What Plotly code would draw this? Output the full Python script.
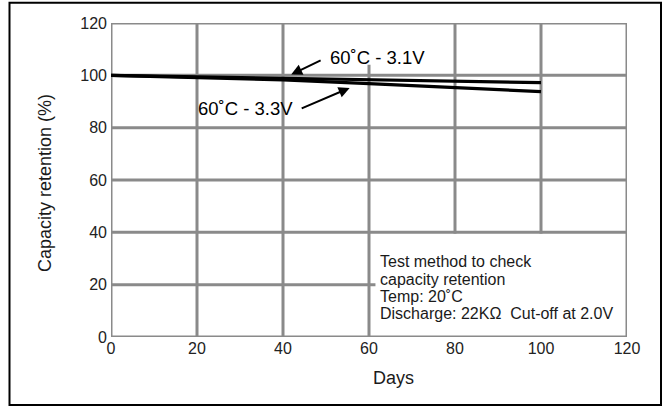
import plotly.graph_objects as go

# Storage test: capacity retention vs. days
days = [0, 20, 40, 60, 80, 100]
retention_31v = [100, 99.4, 98.9, 98.4, 97.9, 97.2]
retention_33v = [100, 99.3, 98.3, 96.8, 95.4, 93.8]

x_ticks = [0, 20, 40, 60, 80, 100, 120]
y_ticks = [0, 20, 40, 60, 80, 100, 120]

label_31v = "60˚C - 3.1V"
label_33v = "60˚C - 3.3V"
method_lines = [
    "Test method to check",
    "capacity retention",
    "Temp: 20˚C",
    "Discharge: 22KΩ\u00a0\u00a0Cut-off at 2.0V",
]

FONT = "Liberation Sans, Arial, Helvetica, sans-serif"
GRID = "#8a8a8a"
GRID_W = 3

fig = go.Figure()

fig.add_trace(go.Scatter(x=days, y=retention_31v, mode="lines",
                         line=dict(color="black", width=3.2), showlegend=False))
fig.add_trace(go.Scatter(x=days, y=retention_33v, mode="lines",
                         line=dict(color="black", width=3.2), showlegend=False))

# grid segments (x0, y0, x1, y1); some are cut short around the labels / note box
grid_segments = []
for y in [0, 40, 60, 80, 100, 120]:
    grid_segments.append((0, y, 120, y))
grid_segments.append((0, 20, 61.5, 20))
for x in [0, 20, 40, 120]:
    grid_segments.append((x, 0, x, 120))
grid_segments.append((60, 0, 60, 104))
grid_segments.append((80, 39.5, 80, 120))
grid_segments.append((100, 39.5, 100, 120))

for x0, y0, x1, y1 in grid_segments:
    fig.add_shape(type="line", xref="x", yref="y", x0=x0, y0=y0, x1=x1, y1=y1,
                  line=dict(color=GRID, width=GRID_W), layer="below")

# outer frame
fig.add_shape(type="rect", xref="paper", yref="paper",
              x0=-0.1967, x1=1.0659, y0=-0.2166, y1=1.0647,
              line=dict(color="black", width=2))

# series labels with arrows
fig.add_annotation(x=61.9, y=106.8, xref="x", yref="y", text=label_31v,
                   showarrow=False, font=dict(family=FONT, size=18.5, color="black"))
fig.add_annotation(x=41.9, y=100.3, ax=49.1, ay=106.0, xref="x", yref="y",
                   axref="x", ayref="y", text="", showarrow=True,
                   arrowhead=2, arrowsize=1.1, arrowwidth=2, arrowcolor="black", standoff=0)
fig.add_annotation(x=31.2, y=87.3, xref="x", yref="y", text=label_33v,
                   showarrow=False, font=dict(family=FONT, size=18.5, color="black"))
fig.add_annotation(x=55.5, y=95.2, ax=44.0, ay=87.1, xref="x", yref="y",
                   axref="x", ayref="y", text="", showarrow=True,
                   arrowhead=2, arrowsize=1.1, arrowwidth=2, arrowcolor="black", standoff=0)

# test-method note
for line, yv in zip(method_lines, [28.8, 22.1, 15.45, 9.1]):
    fig.add_annotation(x=62.2, y=yv, xref="x", yref="y", text=line, showarrow=False,
                       xanchor="left", yanchor="middle",
                       font=dict(family=FONT, size=16, color="#1a1a1a"))

# axis titles
fig.add_annotation(x=0.548, y=-0.1306, xref="paper", yref="paper", text="Days",
                   xanchor="center", yanchor="middle", showarrow=False,
                   font=dict(family=FONT, size=18, color="#1a1a1a"))
fig.add_annotation(x=-0.128, y=0.49, xref="paper", yref="paper",
                   text="Capacity retention (%)", textangle=-90, showarrow=False,
                   xanchor="center", yanchor="middle",
                   font=dict(family=FONT, size=18, color="#1a1a1a"))

fig.update_xaxes(range=[0, 120], tickvals=x_ticks, showgrid=False, zeroline=False,
                 showline=False, ticks="", tickfont=dict(family=FONT, size=16, color="#222"))
fig.update_yaxes(range=[0, 120], tickvals=y_ticks, showgrid=False, zeroline=False,
                 showline=False, ticks="", ticklabelstandoff=3,
                 tickfont=dict(family=FONT, size=16, color="#222"))

fig.update_layout(width=667, height=407, margin=dict(l=111, r=40, t=23, b=70),
                  paper_bgcolor="white", plot_bgcolor="white")

fig.write_html("out.html")
